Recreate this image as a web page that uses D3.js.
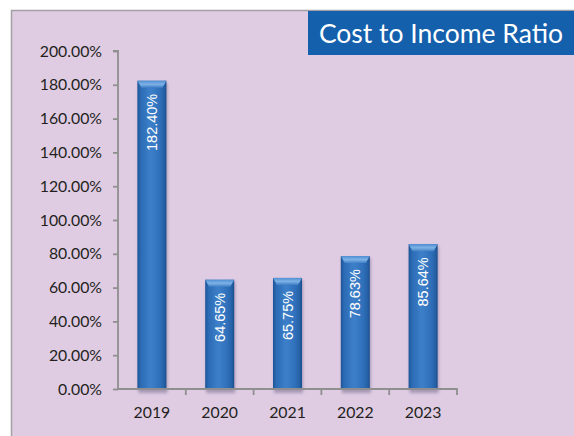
<!DOCTYPE html>
<html>
<head>
<meta charset="utf-8">
<script src="https://cdn.jsdelivr.net/npm/d3@7"></script>
<style>
  html, body { margin: 0; padding: 0; background: #ffffff; }
  svg { display: block; }
</style>
</head>
<body>
<svg id="chart" width="574" height="436"></svg>
<script>
// Cost to income ratio by year (percent)
const years = ["2019", "2020", "2021", "2022", "2023"];
const ratios = [182.40, 64.65, 65.75, 78.63, 85.64];
const yTicks = [0, 20, 40, 60, 80, 100, 120, 140, 160, 180, 200];
const title = "Cost to Income Ratio";

const svg = d3.select("#chart");
const W = 574, H = 436;

// panel background with a thin grey frame on the top and left
svg.append("rect").attr("x", 11).attr("y", 10).attr("width", W - 11).attr("height", H - 10)
  .attr("fill", "#dfcce3");
svg.append("path").attr("d", `M11.5,${H} V10.5 H${W}`)
  .attr("fill", "none").attr("stroke", "#a3a0a5").attr("stroke-width", 1.5);

// title badge
svg.append("rect").attr("x", 308).attr("y", 11).attr("width", W - 308).attr("height", 44)
  .attr("fill", "#1560ac");
svg.append("text").attr("x", 441).attr("y", 43)
  .attr("text-anchor", "middle").attr("fill", "#ffffff")
  .attr("font-family", "Lato, 'Open Sans', sans-serif").attr("font-size", 26.5)
  .text(title);

const plot = { left: 118, right: 457, top: 51, bottom: 389 };

const x = d3.scaleBand().domain(years).range([plot.left, plot.right]).paddingInner(0).paddingOuter(0);
const y = d3.scaleLinear().domain([0, 200]).range([plot.bottom, plot.top]);

// gradients for the bar body and its top cap
const defs = svg.append("defs");
const body = defs.append("linearGradient").attr("id", "barBody").attr("x1", 0).attr("x2", 1).attr("y1", 0).attr("y2", 0);
[[0, "#1d5597"], [0.12, "#2c6bb5"], [0.45, "#3d80c9"], [0.75, "#3171bc"], [0.92, "#2561a6"], [1, "#1a4d8c"]]
  .forEach(([o, c]) => body.append("stop").attr("offset", o).attr("stop-color", c));
const cap = defs.append("linearGradient").attr("id", "barCap").attr("x1", 0).attr("x2", 0).attr("y1", 0).attr("y2", 1);
[[0, "#4f8fd3"], [0.5, "#7fb2e6"], [1, "#3f7fc6"]]
  .forEach(([o, c]) => cap.append("stop").attr("offset", o).attr("stop-color", c));
const shadowBlur = defs.append("filter").attr("id", "shadow").attr("x", "-50%").attr("y", "-50%").attr("width", "200%").attr("height", "200%");
shadowBlur.append("feGaussianBlur").attr("stdDeviation", 1.6);

// y axis
const yAxis = svg.append("g").attr("transform", `translate(${plot.left},0)`)
  .call(d3.axisLeft(y).tickValues(yTicks).tickSize(5).tickPadding(11)
    .tickFormat(d => d.toFixed(2) + "%"));
yAxis.select(".domain").attr("stroke", "#8f8f8f").attr("stroke-width", 1.8)
  .attr("d", `M-5,${plot.top}H0V${plot.bottom}`);
yAxis.selectAll(".tick line").attr("stroke", "#8f8f8f").attr("stroke-width", 1.8);
yAxis.selectAll(".tick text").attr("fill", "#231f20")
  .attr("font-family", "Lato, 'Open Sans', sans-serif").attr("font-size", 15.8);

const barW = 29;
const bars = svg.append("g");
const data = years.map((yr, i) => ({ yr, v: ratios[i] }));

// soft shadow under each bar
bars.selectAll("rect.shadow").data(data).join("rect").attr("class", "shadow")
  .attr("x", d => x(d.yr) + x.bandwidth() / 2 - barW / 2 + 1)
  .attr("y", d => y(d.v) + 2)
  .attr("width", barW)
  .attr("height", d => plot.bottom - y(d.v) + 2)
  .attr("fill", "#3c3560").attr("opacity", 0.35).attr("filter", "url(#shadow)");

bars.selectAll("rect.bar").data(data).join("rect").attr("class", "bar")
  .attr("x", d => x(d.yr) + x.bandwidth() / 2 - barW / 2)
  .attr("y", d => y(d.v))
  .attr("width", barW)
  .attr("height", d => plot.bottom - y(d.v))
  .attr("fill", "url(#barBody)");

bars.selectAll("path.cap").data(data).join("path").attr("class", "cap")
  .attr("d", d => {
    const x0 = x(d.yr) + x.bandwidth() / 2 - barW / 2, t = y(d.v);
    return `M${x0},${t}H${x0 + barW}L${x0 + barW - 4},${t + 7}H${x0 + 4}Z`;
  })
  .attr("fill", "url(#barCap)");

// x axis
const xAxis = svg.append("g").attr("transform", `translate(0,${plot.bottom})`)
  .call(d3.axisBottom(x).tickSize(0).tickPadding(18));
xAxis.select(".domain").attr("stroke", "#8f8f8f").attr("stroke-width", 1.8)
  .attr("d", `M${plot.left},0H${plot.right}V6`);
xAxis.selectAll(".tick text").attr("fill", "#231f20")
  .attr("font-family", "Lato, 'Open Sans', sans-serif").attr("font-size", 15.8);
// boundary tick marks between categories
xAxis.selectAll("line.sep").data(years.slice(1)).join("line").attr("class", "sep")
  .attr("x1", d => x(d)).attr("x2", d => x(d)).attr("y1", 0).attr("y2", 6)
  .attr("stroke", "#8f8f8f").attr("stroke-width", 1.8);

// value labels inside bars, reading upward
bars.selectAll("text.val").data(data).join("text").attr("class", "val")
  .attr("transform", d => `translate(${x(d.yr) + x.bandwidth() / 2 + 5},${y(d.v) + 13}) rotate(-90)`)
  .attr("text-anchor", "end").attr("fill", "#ffffff")
  .attr("font-family", "'Liberation Sans', Arial, sans-serif").attr("font-size", 14.5)
  .text(d => d.v.toFixed(2) + "%");
</script>
</body>
</html>
